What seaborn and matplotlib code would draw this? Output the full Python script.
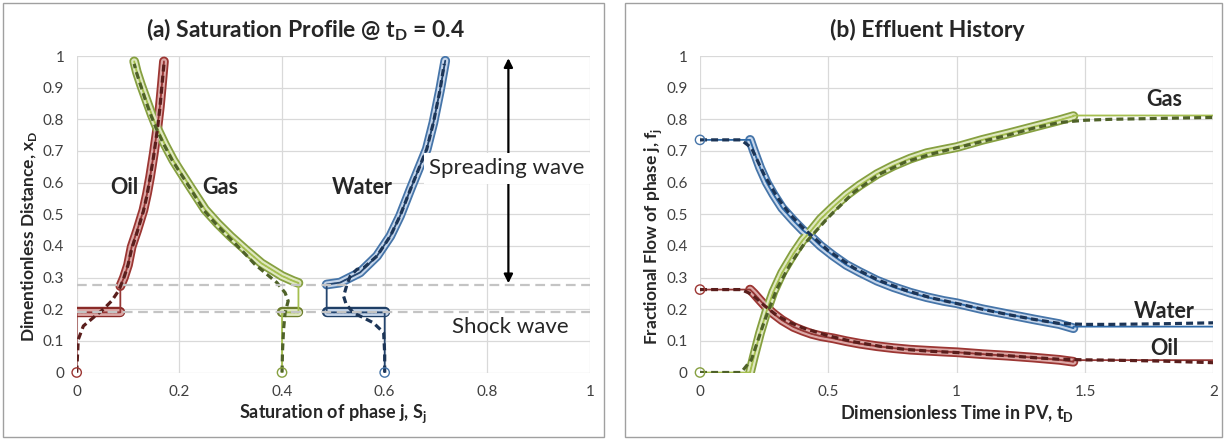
import matplotlib
matplotlib.use("Agg")
import matplotlib.pyplot as plt
import seaborn as sns
from matplotlib.patches import Rectangle

sns.set_style("white")
plt.rcParams['font.family'] = ['Lato', 'DejaVu Sans']
plt.rcParams['mathtext.fontset'] = 'custom'
plt.rcParams['mathtext.rm'] = 'Lato'
plt.rcParams['mathtext.bf'] = 'Lato:bold'
plt.rcParams['lines.scale_dashes'] = False

# ---------------- Panel (a): saturation profile at tD = 0.4 ----------------
# analytic spreading waves (S_j, x_D)
oil_S = [0.085, 0.092, 0.100, 0.107, 0.118, 0.130, 0.137, 0.143, 0.150, 0.157, 0.162, 0.166, 0.170]
oil_xD = [0.273, 0.300, 0.340, 0.397, 0.450, 0.513, 0.565, 0.618, 0.690, 0.771, 0.840, 0.910, 0.983]
gas_S = [0.432, 0.422, 0.400, 0.383, 0.360, 0.331, 0.300, 0.275, 0.250, 0.221, 0.200, 0.188,
         0.172, 0.157, 0.146, 0.136, 0.125, 0.117, 0.112]
gas_xD = [0.283, 0.289, 0.305, 0.322, 0.345, 0.385, 0.430, 0.470, 0.515, 0.587, 0.640, 0.671,
          0.720, 0.771, 0.815, 0.860, 0.910, 0.950, 0.983]
wat_S = [0.487, 0.513, 0.552, 0.585, 0.611, 0.630, 0.650, 0.666, 0.682, 0.695, 0.708, 0.718]
wat_xD = [0.278, 0.284, 0.316, 0.368, 0.431, 0.495, 0.578, 0.642, 0.706, 0.790, 0.894, 0.985]

# initial saturations (x_D = 0) and constant-state saturations
S_init = {"Oil": 0.0, "Gas": 0.4, "Water": 0.6}
S_const = {"Oil": 0.085, "Gas": 0.432, "Water": 0.487}
xD_shock = 0.19          # shock front position
xD_spread = 0.275        # start of spreading wave

# numerical solution (dashed)
oil_num_S = [0.0, 0.003, 0.013, 0.032, 0.052, 0.068, 0.081, 0.090, 0.100, 0.107, 0.118, 0.130,
             0.137, 0.143, 0.150, 0.157, 0.162, 0.166, 0.170]
oil_num_xD = [0.0, 0.104, 0.147, 0.173, 0.200, 0.226, 0.257, 0.290, 0.340, 0.390, 0.445, 0.510,
              0.560, 0.615, 0.685, 0.765, 0.835, 0.905, 0.975]
gas_num_S = [0.400, 0.401, 0.403, 0.406, 0.412, 0.406, 0.390, 0.367, 0.347, 0.325, 0.298, 0.272,
             0.248, 0.220, 0.198, 0.186, 0.170, 0.155, 0.144, 0.134, 0.124, 0.116, 0.112]
gas_num_xD = [0.0, 0.070, 0.136, 0.189, 0.226, 0.252, 0.284, 0.315, 0.342, 0.380, 0.425, 0.468,
              0.512, 0.585, 0.640, 0.671, 0.720, 0.771, 0.815, 0.860, 0.910, 0.950, 0.975]
wat_num_S = [0.600, 0.600, 0.598, 0.578, 0.539, 0.525, 0.520, 0.526, 0.533, 0.546, 0.560, 0.585,
             0.611, 0.630, 0.650, 0.666, 0.682, 0.695, 0.708, 0.716]
wat_num_xD = [0.0, 0.060, 0.126, 0.157, 0.189, 0.215, 0.241, 0.275, 0.305, 0.326, 0.332, 0.368,
              0.431, 0.495, 0.578, 0.642, 0.706, 0.790, 0.894, 0.975]

# ---------------- Panel (b): effluent history ----------------
t_curve = [0.195, 0.21, 0.234, 0.26, 0.286, 0.32, 0.364, 0.40, 0.435, 0.47, 0.519, 0.57, 0.623,
           0.69, 0.753, 0.82, 0.883, 0.95, 1.0, 1.1, 1.2, 1.3, 1.4, 1.455]
f_wat = [0.735, 0.700, 0.647, 0.600, 0.563, 0.520, 0.480, 0.450, 0.427, 0.400, 0.369, 0.340,
         0.317, 0.290, 0.270, 0.252, 0.238, 0.226, 0.219, 0.200, 0.184, 0.168, 0.153, 0.140]
f_oil = [0.262, 0.250, 0.228, 0.205, 0.186, 0.165, 0.144, 0.132, 0.122, 0.115, 0.108, 0.099,
         0.091, 0.083, 0.077, 0.072, 0.069, 0.066, 0.064, 0.058, 0.053, 0.047, 0.040, 0.034]
f_gas = [0.000, 0.050, 0.125, 0.195, 0.255, 0.315, 0.375, 0.418, 0.450, 0.485, 0.523, 0.560,
         0.592, 0.627, 0.653, 0.676, 0.693, 0.704, 0.712, 0.735, 0.755, 0.776, 0.797, 0.810]
f_init = {"Water": 0.735, "Oil": 0.262, "Gas": 0.0}
f_final = {"Water": 0.145, "Oil": 0.039, "Gas": 0.812}
t_end = 2.0

t_num = [0, 0.16, 0.2, 0.25, 0.3, 0.35, 0.4, 0.5, 0.6, 0.7, 0.8, 0.9, 1.0, 1.1, 1.2, 1.3, 1.4,
         1.5, 1.6, 1.8, 2.0]
wat_num_f = [0.735, 0.735, 0.710, 0.625, 0.555, 0.500, 0.458, 0.385, 0.330, 0.290, 0.260, 0.236,
             0.218, 0.200, 0.183, 0.168, 0.155, 0.152, 0.152, 0.154, 0.157]
oil_num_f = [0.262, 0.262, 0.248, 0.212, 0.180, 0.158, 0.141, 0.116, 0.097, 0.083, 0.073, 0.067,
             0.063, 0.058, 0.053, 0.047, 0.042, 0.040, 0.039, 0.036, 0.031]
gas_num_f = [0.0, 0.0, 0.040, 0.160, 0.265, 0.340, 0.400, 0.490, 0.570, 0.627, 0.665, 0.690,
             0.710, 0.730, 0.750, 0.772, 0.790, 0.797, 0.800, 0.803, 0.806]

# tick labels
xticksA = [0, 0.2, 0.4, 0.6, 0.8, 1]
xlabA = ["0", "0.2", "0.4", "0.6", "0.8", "1"]
xticksB = [0, 0.5, 1, 1.5, 2]
xlabB = ["0", "0.5", "1", "1.5", "2"]
yticks = [0, 0.1, 0.2, 0.3, 0.4, 0.5, 0.6, 0.7, 0.8, 0.9, 1]
ylab = ["0", "0.1", "0.2", "0.3", "0.4", "0.5", "0.6", "0.7", "0.8", "0.9", "1"]

# styles
C = {
    "Oil": dict(tube="#9c3633", inner="#dca9a7", solid="#953735", dash="#5a1e1c", bar="#8a2b28"),
    "Gas": dict(tube="#86a040", inner="#dfe8c0", solid="#a5bf4f", dash="#4f6228", bar="#6c7d2c"),
    "Water": dict(tube="#4675a9", inner="#c5d5ea", solid="#24456e", dash="#1c3557", bar="#1f3f66"),
}


def line(ax, x, y, **kw):
    sns.lineplot(x=x, y=y, sort=False, estimator=None, ax=ax, **kw)


def tube(ax, x, y, outer, inner, z=3, w=7.0):
    line(ax, x, y, color=outer, lw=w, solid_capstyle="round", solid_joinstyle="round", zorder=z)
    line(ax, x, y, color=inner, lw=w - 2.6, solid_capstyle="round", solid_joinstyle="round", zorder=z + 0.1)
    line(ax, x, y, color=outer, lw=0.9, linestyle=(0, (1.2, 1.4)), alpha=0.8, zorder=z + 0.2)


fig = plt.figure(figsize=(12.25, 4.4), dpi=100)
W, H = 1225, 440
for x0, x1 in [(3, 604), (625, 1222)]:
    fig.add_artist(Rectangle((x0 / W, 3 / H), (x1 - x0) / W, (437 - 3) / H, transform=fig.transFigure,
                             fill=False, ec="#a0a0a0", lw=1.0))

axA = fig.add_axes([76.7 / W, 1 - 372.5 / H, 513.3 / W, 316.5 / H])
axB = fig.add_axes([700 / W, 1 - 372.5 / H, 513.3 / W, 316.5 / H])

# ---- panel (a)
curvesA = {"Oil": (oil_S, oil_xD), "Gas": (gas_S, gas_xD), "Water": (wat_S, wat_xD)}
numA = {"Oil": (oil_num_S, oil_num_xD), "Gas": (gas_num_S, gas_num_xD), "Water": (wat_num_S, wat_num_xD)}
for ph, (S, X) in curvesA.items():
    c = C[ph]
    tube(axA, S, X, c["tube"], c["inner"], z=3)
    tube(axA, [S_init[ph], S_const[ph]], [xD_shock, xD_shock], c["bar"], c["inner"], z=3, w=7.5)
    sx = [S_init[ph], S_init[ph], S_const[ph], S_const[ph]] + list(S)
    sy = [0.0, xD_shock, xD_shock, X[0]] + list(X)
    line(axA, sx, sy, color=c["solid"], lw=1.3, zorder=4)
    ns, nx = numA[ph]
    line(axA, ns, nx, color=c["dash"], lw=2.3, linestyle=(0, (5, 3)), zorder=5)
    sns.scatterplot(x=[S_init[ph]], y=[0.0], ax=axA, marker="o", s=45, facecolors="none",
                    edgecolor=c["tube"], linewidth=1.0, zorder=6, clip_on=False)

for lev in [xD_shock, xD_spread]:
    axA.axhline(lev, color="#c4c4c4", lw=1.6, linestyle=(0, (7, 4)), zorder=5.5)

axA.annotate("", xy=(0.841, 0.993), xytext=(0.841, 0.282),
             arrowprops=dict(arrowstyle="<|-|>", color="black", lw=1.6, mutation_scale=13,
                             shrinkA=0, shrinkB=0), zorder=6)
axA.text(0.838, 0.645, "Spreading wave", ha="center", va="center", fontsize=16, zorder=7,
         bbox=dict(boxstyle="square,pad=0.25", fc="white", ec="none"))
axA.text(0.845, 0.145, "Shock wave", ha="center", va="center", fontsize=16, zorder=7)
for ph, (x, y) in {"Oil": (0.092, 0.586), "Gas": (0.279, 0.586), "Water": (0.556, 0.586)}.items():
    axA.text(x, y, ph, ha="center", va="center", fontsize=15.5, fontweight="bold", zorder=7)

# ---- panel (b)
fB = {"Water": f_wat, "Oil": f_oil, "Gas": f_gas}
numB = {"Water": wat_num_f, "Oil": oil_num_f, "Gas": gas_num_f}
for ph, F in fB.items():
    c = C[ph]
    tube(axB, t_curve, F, c["tube"], c["inner"], z=3)
    tx = [0.0] + list(t_curve) + [t_curve[-1], t_end]
    fy = [f_init[ph]] + list(F) + [f_final[ph], f_final[ph]]
    solid = c["solid"] if ph != "Water" else "#2f6aa8"
    line(axB, tx, fy, color=solid, lw=1.3, zorder=4)
    line(axB, t_num, numB[ph], color=c["dash"], lw=2.3, linestyle=(0, (5, 3)), zorder=5)
    sns.scatterplot(x=[0.0], y=[f_init[ph]], ax=axB, marker="o", s=45, facecolors="none",
                    edgecolor=c["tube"], linewidth=1.0, zorder=6, clip_on=False)
for ph, (x, y) in {"Gas": (1.81, 0.862), "Water": (1.81, 0.192), "Oil": (1.81, 0.077)}.items():
    axB.text(x, y, ph, ha="center", va="center", fontsize=15.5, fontweight="bold", zorder=7)

# ---- axes cosmetics
for ax, xt, xl, xmax in [(axA, xticksA, xlabA, 1), (axB, xticksB, xlabB, 2)]:
    ax.set_xlim(0, xmax)
    ax.set_ylim(0, 1)
    ax.set_xticks(xt)
    ax.set_xticklabels(xl)
    ax.set_yticks(yticks)
    ax.set_yticklabels(ylab)
    ax.grid(True, color="#d9d9d9", lw=0.9)
    ax.set_axisbelow(True)
    for s in ax.spines.values():
        s.set_visible(False)
    ax.tick_params(axis="both", length=0, labelsize=11, labelcolor="#404040", pad=9)

axA.set_xlabel("Saturation of phase j, S$_\\mathregular{j}$", fontsize=13, fontweight="bold")
axA.set_ylabel("Dimentionless Distance, x$_\\mathregular{D}$", fontsize=12.5, fontweight="bold")
axB.set_xlabel("Dimensionless Time in PV, t$_\\mathregular{D}$", fontsize=13, fontweight="bold")
axB.set_ylabel("Fractional Flow of phase j, f$_\\mathregular{j}$", fontsize=12.5, fontweight="bold")
axA.yaxis.set_label_coords(-0.093, 0.43)
axB.yaxis.set_label_coords(-0.092, 0.43)
for ax in (axA, axB):
    ax.xaxis.set_label_coords(0.5, -0.13)
    ax.xaxis.label.set_va("center")
    ax.yaxis.label.set_va("center")

fig.text(305 / W, 1 - 30 / H, "(a) Saturation Profile @ t$_\\mathregular{D}$ = 0.4", ha="center",
         va="center", fontsize=16.5, fontweight="bold")
fig.text(927 / W, 1 - 30 / H, "(b) Effluent History", ha="center", va="center", fontsize=16.5,
         fontweight="bold")

fig.savefig("out.png", dpi=100)
